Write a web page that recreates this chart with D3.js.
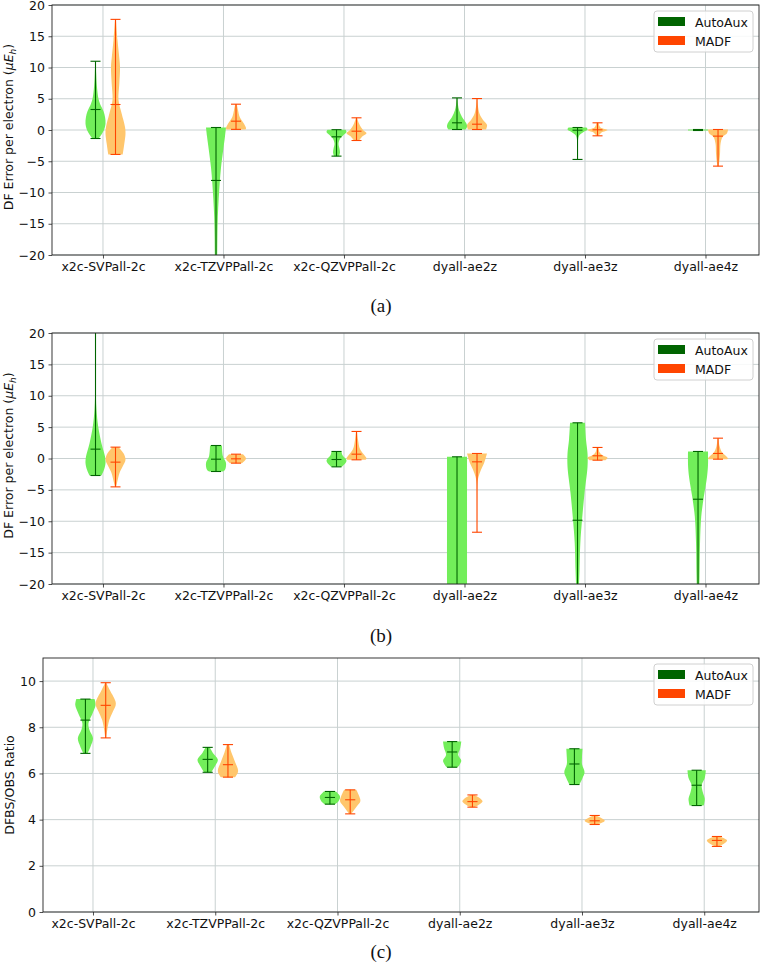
<!DOCTYPE html>
<html>
<head>
<meta charset="utf-8">
<script src="https://cdn.jsdelivr.net/npm/d3@7"></script>
<style>
  html, body { margin: 0; padding: 0; background: #fff; }
  svg { display: block; }
</style>
</head>
<body>
<svg id="chart" width="760" height="975"></svg>
<script>
// ---------------- DATA ----------------
const categories = ["x2c-SVPall-2c", "x2c-TZVPPall-2c", "x2c-QZVPPall-2c", "dyall-ae2z", "dyall-ae3z", "dyall-ae4z"];
const seriesNames = ["AutoAux", "MADF"];
const errorTicks = [-20, -15, -10, -5, 0, 5, 10, 15, 20];
const ratioTicks = [0, 2, 4, 6, 8, 10];
const captions = ["(a)", "(b)", "(c)"];

// each violin: max, min, median, density profile [value, relative density]
const panelA_AutoAux = [
  {max: 11.0, min: -1.36, med: 3.28, prof: [[11.0,0.02],[9,0.07],[7,0.14],[5,0.3],[4,0.5],[3,0.8],[2,0.96],[1,1.0],[0,0.85],[-0.7,0.6],[-1.36,0.3]]},
  {max: 0.4, min: -28, med: -8.07, prof: [[0.4,1.0],[-1,0.9],[-3.2,0.72],[-6,0.5],[-8.5,0.37],[-11,0.27],[-13.9,0.18],[-17,0.14],[-20,0.12],[-24,0.08],[-28,0.04]]},
  {max: 0.05, min: -4.18, med: -1.09, prof: [[0.05,0.9],[-0.3,1.0],[-0.8,0.7],[-1.4,0.35],[-2.2,0.2],[-3.0,0.3],[-3.6,0.35],[-4.18,0.25]]},
  {max: 5.14, min: 0.08, med: 1.15, prof: [[5.14,0.03],[4,0.1],[3.2,0.2],[2.1,0.5],[1.0,0.95],[0.5,1.0],[0.08,0.85]]},
  {max: 0.4, min: -4.71, med: -0.03, prof: [[0.4,0.9],[0.1,1.0],[-0.3,0.6],[-0.8,0.2],[-1.5,0.06],[-3,0.03],[-4.71,0.02]]},
  {max: 0.08, min: -0.08, med: 0.0, prof: [[0.08,1.0],[0,1.0],[-0.08,1.0]]}
];
const panelA_MADF = [
  {max: 17.7, min: -3.91, med: 4.08, prof: [[17.7,0.05],[14.4,0.2],[12,0.35],[10.1,0.45],[7.4,0.38],[4.8,0.3],[2.6,0.62],[0.5,0.95],[-0.6,1.0],[-2.2,0.88],[-3.91,0.72]]},
  {max: 4.13, min: 0.1, med: 1.41, prof: [[4.13,0.08],[3.2,0.2],[2.1,0.37],[1.0,0.8],[0.3,1.0],[0.1,0.95]]},
  {max: 1.95, min: -1.68, med: -0.19, prof: [[1.95,0.05],[1.04,0.25],[0,0.65],[-0.5,1.0],[-1.0,0.6],[-1.68,0.25]]},
  {max: 5.03, min: 0.08, med: 0.93, prof: [[5.03,0.03],[4,0.08],[2.6,0.25],[1.6,0.6],[0.8,1.0],[0.08,0.9]]},
  {max: 1.15, min: -0.93, med: 0.03, prof: [[1.15,0.1],[0.4,0.3],[0,1.0],[-0.4,0.4],[-0.93,0.1]]},
  {max: 0.08, min: -5.78, med: -0.98, prof: [[0.08,1.0],[-0.5,0.9],[-1.1,0.45],[-2.2,0.25],[-3.8,0.2],[-5.4,0.1],[-5.78,0.05]]}
];
const panelB_AutoAux = [
  {max: 32, min: -2.71, med: 1.49, prof: [[32,0.005],[20,0.01],[12,0.02],[7.8,0.1],[5.1,0.27],[2.4,0.6],[0.3,0.95],[-0.7,1.0],[-1.8,0.85],[-2.71,0.6]]},
  {max: 2.07, min: -2.07, med: -0.11, prof: [[2.07,0.6],[0.3,0.7],[-0.7,1.0],[-1.8,0.9],[-2.07,0.7]]},
  {max: 1.12, min: -1.33, med: -0.16, prof: [[1.12,0.5],[0.5,0.6],[-0.3,1.0],[-0.9,0.8],[-1.33,0.5]]},
  {max: 0.27, min: -45, med: -25, prof: [[0.27,1.0],[-10,1.0],[-20,1.0],[-45,0.9]]},
  {max: 5.69, min: -25, med: -9.84, prof: [[5.69,0.75],[3,0.85],[0.8,1.0],[-1.3,1.0],[-5.5,0.7],[-9.8,0.45],[-13.5,0.28],[-17.8,0.2],[-20,0.15],[-25,0.05]]},
  {max: 1.12, min: -24, med: -6.49, prof: [[1.12,1.0],[-1.0,1.0],[-2.9,0.9],[-6.1,0.58],[-9.3,0.32],[-13.5,0.2],[-18.8,0.15],[-24,0.05]]}
];
const panelB_MADF = [
  {max: 1.81, min: -4.52, med: -0.58, prof: [[1.81,0.3],[0.85,0.8],[-0.2,1.0],[-1.3,0.7],[-2.3,0.4],[-3.9,0.15],[-4.52,0.05]]},
  {max: 0.69, min: -0.74, med: -0.05, prof: [[0.69,0.7],[0,1.0],[-0.74,0.6]]},
  {max: 4.31, min: -0.21, med: 0.69, prof: [[4.31,0.05],[3,0.15],[1.5,0.35],[0.5,0.8],[0,1.0],[-0.21,0.9]]},
  {max: 0.8, min: -11.75, med: -0.53, prof: [[0.8,1.0],[-0.75,0.7],[-1.8,0.4],[-2.9,0.15],[-3.9,0.05],[-6,0.02],[-11.75,0.01]]},
  {max: 1.76, min: -0.27, med: 0.43, prof: [[1.76,0.1],[1.0,0.2],[0.5,0.5],[0.1,1.0],[-0.27,0.8]]},
  {max: 3.24, min: -0.11, med: 0.8, prof: [[3.24,0.05],[2.0,0.15],[1.0,0.4],[0.4,0.8],[0,1.0],[-0.11,0.9]]}
];
const panelC_AutoAux = [
  {max: 9.22, min: 6.87, med: 8.31, prof: [[9.22,0.9],[8.96,1.0],[8.6,0.7],[8.17,0.3],[7.88,0.4],[7.52,0.75],[7.16,0.5],[6.87,0.2]]},
  {max: 7.13, min: 6.05, med: 6.61, prof: [[7.13,0.2],[6.9,0.5],[6.6,1.0],[6.3,0.7],[6.05,0.35]]},
  {max: 5.22, min: 4.67, med: 4.96, prof: [[5.22,0.6],[5.0,1.0],[4.8,0.85],[4.67,0.5]]},
  {max: 7.38, min: 6.27, med: 6.93, prof: [[7.38,0.9],[7.1,0.8],[6.8,0.6],[6.55,0.9],[6.27,0.55]]},
  {max: 7.07, min: 5.52, med: 6.41, prof: [[7.07,0.8],[6.7,0.75],[6.4,0.75],[6.05,1.0],[5.8,0.8],[5.52,0.5]]},
  {max: 6.14, min: 4.61, med: 5.49, prof: [[6.14,0.9],[5.8,0.8],[5.5,0.5],[5.2,0.6],[4.9,0.8],[4.61,0.7]]}
];
const panelC_MADF = [
  {max: 9.93, min: 7.54, med: 8.95, prof: [[9.93,0.05],[9.61,0.4],[9.03,1.0],[8.67,0.7],[8.31,0.35],[7.88,0.15],[7.54,0.05]]},
  {max: 7.25, min: 5.84, med: 6.38, prof: [[7.25,0.1],[6.9,0.35],[6.5,0.7],[6.1,1.0],[5.84,0.7]]},
  {max: 5.29, min: 4.25, med: 4.86, prof: [[5.29,0.6],[5.0,0.9],[4.8,1.0],[4.55,0.6],[4.25,0.1]]},
  {max: 5.07, min: 4.54, med: 4.78, prof: [[5.07,0.2],[4.8,1.0],[4.54,0.2]]},
  {max: 4.18, min: 3.79, med: 3.95, prof: [[4.18,0.1],[3.95,1.0],[3.79,0.2]]},
  {max: 3.27, min: 2.84, med: 3.1, prof: [[3.27,0.2],[3.1,1.0],[2.84,0.2]]}
];

// ---------------- STYLE / LAYOUT ----------------
const fillColors = ["#72ee5a", "#ffc66c"];
const lineColors = ["#006400", "#ff4500"];
const legendColors = ["#006400", "#ff4500"];
const offsets = [-0.062, 0.104];   // violin offset from category tick (x units)
const halfWidth = 0.083;            // max half width in x units
const gridColor = "#c9d1d1";
const SANS = "'DejaVu Sans', sans-serif";
const SERIF = "'Liberation Serif', 'DejaVu Serif', serif";

const svg = d3.select("#chart");
svg.append("rect").attr("width", 760).attr("height", 975).attr("fill", "#fff");

const panels = [
  {id: "a", left: 52, right: 759, top: 5, bottom: 255, xdom: [0.577, 6.444], ydom: [-20, 20], ticks: errorTicks,
   series: [panelA_AutoAux, panelA_MADF], ylabel: "error", caption: captions[0], capY: 312},
  {id: "b", left: 52, right: 759, top: 333, bottom: 584, xdom: [0.577, 6.444], ydom: [-20, 20], ticks: errorTicks,
   series: [panelB_AutoAux, panelB_MADF], ylabel: "error", caption: captions[1], capY: 642},
  {id: "c", left: 43, right: 759, top: 658, bottom: 912, xdom: [0.591, 6.448], ydom: [0, 11], ticks: ratioTicks,
   series: [panelC_AutoAux, panelC_MADF], ylabel: "DFBS/OBS Ratio", caption: captions[2], capY: 958}
];

const tickFmt = d => d3.format("d")(d);

panels.forEach(p => {
  const x = d3.scaleLinear().domain(p.xdom).range([p.left, p.right]);
  const y = d3.scaleLinear().domain(p.ydom).range([p.bottom, p.top]);
  const wpx = x(halfWidth) - x(0);
  const w = d3.scaleLinear().domain([0, 1]).range([0, wpx]);
  const g = svg.append("g");

  const clipId = "clip-" + p.id;
  svg.append("defs").append("clipPath").attr("id", clipId)
    .append("rect").attr("x", p.left).attr("y", p.top)
    .attr("width", p.right - p.left).attr("height", p.bottom - p.top);

  // grid
  const grid = g.append("g");
  p.ticks.forEach(t => {
    grid.append("line").attr("x1", p.left).attr("x2", p.right)
      .attr("y1", y(t)).attr("y2", y(t))
      .attr("stroke", gridColor).attr("stroke-width", 1);
  });
  categories.forEach((c, i) => {
    grid.append("line").attr("x1", x(i + 1)).attr("x2", x(i + 1))
      .attr("y1", p.top).attr("y2", p.bottom)
      .attr("stroke", gridColor).attr("stroke-width", 1);
  });

  // violins
  const plot = g.append("g").attr("clip-path", `url(#${clipId})`);
  p.series.forEach((arr, s) => {
    arr.forEach((v, i) => {
      const cx = x(i + 1 + offsets[s]);
      const area = d3.area()
        .y(d => y(d[0]))
        .x0(d => cx - w(d[1]))
        .x1(d => cx + w(d[1]))
        .curve(d3.curveCatmullRom.alpha(0.5));
      plot.append("path").datum(v.prof).attr("d", area)
        .attr("fill", fillColors[s]).attr("stroke", "none");
      const cap = wpx * 0.5;
      const lc = lineColors[s];
      plot.append("line").attr("x1", cx).attr("x2", cx)
        .attr("y1", y(v.max)).attr("y2", y(v.min))
        .attr("stroke", lc).attr("stroke-width", 1.1);
      [v.max, v.min, v.med].forEach(val => {
        plot.append("line").attr("x1", cx - cap).attr("x2", cx + cap)
          .attr("y1", y(val)).attr("y2", y(val))
          .attr("stroke", lc).attr("stroke-width", 1.1);
      });
    });
  });

  // axes
  const yAxis = d3.axisLeft(y).tickValues(p.ticks).tickSize(3.5).tickPadding(3.5).tickFormat(tickFmt);
  const ya = g.append("g").attr("transform", `translate(${p.left},0)`).call(yAxis);
  const xAxis = d3.axisBottom(x).tickValues(categories.map((c, i) => i + 1))
    .tickSize(3.5).tickPadding(3.5).tickFormat((d, i) => categories[i]);
  const xa = g.append("g").attr("transform", `translate(0,${p.bottom})`).call(xAxis);
  [ya, xa].forEach(a => {
    a.select(".domain").remove();
    a.selectAll("line").attr("stroke", "#222").attr("stroke-width", 0.8);
    a.selectAll("text").style("font-family", SANS).style("font-size", "12.5px").attr("fill", "#111");
  });

  // frame
  g.append("rect").attr("x", p.left).attr("y", p.top)
    .attr("width", p.right - p.left).attr("height", p.bottom - p.top)
    .attr("fill", "none").attr("stroke", "#222").attr("stroke-width", 0.9);

  // y label
  const cy = (p.top + p.bottom) / 2;
  if (p.ylabel === "error") {
    const t = g.append("text").attr("transform", `translate(13,${cy - 3}) rotate(-90)`)
      .attr("text-anchor", "middle").style("font-family", SANS).style("font-size", "12.5px").attr("fill", "#111");
    t.append("tspan").text("DF Error per electron (");
    t.append("tspan").attr("font-style", "italic").text("μE");
    t.append("tspan").attr("font-style", "italic").style("font-size", "9px").attr("dy", 2.5).text("h");
    t.append("tspan").attr("dy", -2.5).text(")");
  } else {
    g.append("text").attr("transform", `translate(14,${cy}) rotate(-90)`)
      .attr("text-anchor", "middle").style("font-family", SANS).style("font-size", "12.5px").attr("fill", "#111")
      .text(p.ylabel);
  }

  // legend
  const lx = p.right - 105, ly = p.top + 6;
  const lg = g.append("g");
  lg.append("rect").attr("x", lx).attr("y", ly).attr("width", 99).attr("height", 41)
    .attr("rx", 3).attr("fill", "#fff").attr("fill-opacity", 0.85)
    .attr("stroke", "#d0d0d0").attr("stroke-width", 1);
  seriesNames.forEach((n, k) => {
    const ry = ly + 6 + k * 19;
    lg.append("rect").attr("x", lx + 4).attr("y", ry).attr("width", 27).attr("height", 9)
      .attr("fill", legendColors[k]);
    lg.append("text").attr("x", lx + 41).attr("y", ry + 9.5)
      .style("font-family", SANS).style("font-size", "12.5px")
      .attr("fill", "#111").text(n);
  });

  // caption
  svg.append("text").attr("x", 381).attr("y", p.capY).attr("text-anchor", "middle")
    .style("font-family", SERIF).style("font-size", "19px").attr("fill", "#111")
    .text(p.caption);
});
</script>
</body>
</html>
